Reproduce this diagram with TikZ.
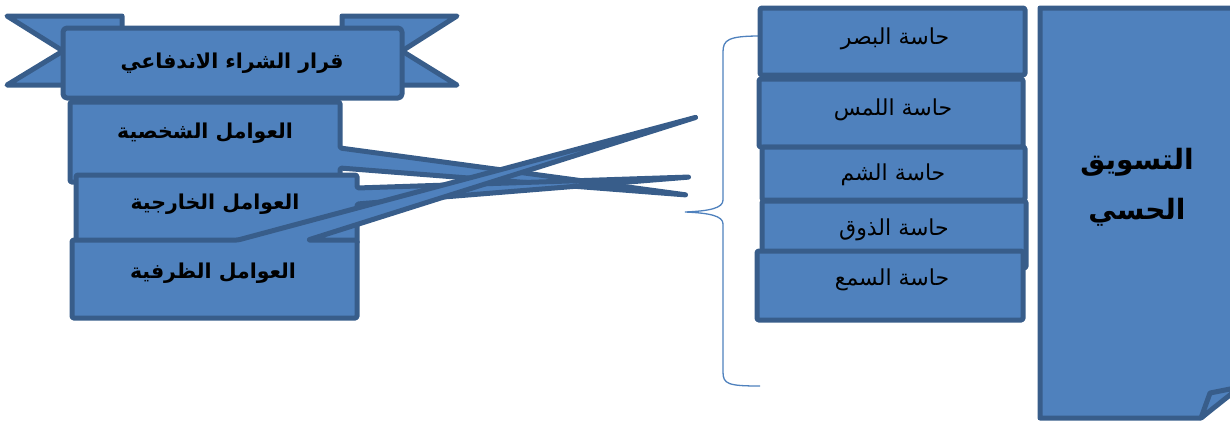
\documentclass[tikz,border=0pt]{standalone}
\usepackage{fontspec}
\newfontfamily\arabicfont[Script=Arabic]{DejaVu Sans}
\TeXXeTstate=1
\newcommand{\artext}[1]{\arabicfont\beginR #1\endR}
\definecolor{bfill}{HTML}{4F81BD}
\definecolor{bline}{HTML}{385D8A}
\begin{document}
\begin{tikzpicture}[x=1pt,y=-1pt]
\tikzset{
  shp/.style={fill=bfill, draw=bline, line width=5pt, line join=round},
  boldtxt/.style={font=\fontsize{20.5}{24}\selectfont\bfseries, text=black},
  senstxt/.style={font=\fontsize{22}{26}\selectfont, text=black},
  bigtxt/.style={font=\fontsize{28}{50}\selectfont\bfseries, text=black, align=center},
}
\useasboundingbox (0,0) rectangle (1230,421);
% ribbon
\draw[shp] (7,16) -- (122,16) -- (122,85) -- (7,85) -- (63,51) -- cycle;
\draw[shp] (457,16) -- (342,16) -- (342,85) -- (457,85) -- (402,51) -- cycle;
\draw[shp, rounded corners=4pt] (63,28) rectangle (402,98);
\node[boldtxt] (title) at (232,63) {\artext{قرار الشراء الاندفاعي}};
% callout boxes
\draw[shp, rounded corners=1.5pt] (70,102) -- (340,102) -- (340,148) -- (687,195) -- (340,168) -- (340,182) -- (70,182) -- cycle;
\draw[shp, rounded corners=1.5pt] (76,175) -- (357,175) -- (357,188) -- (690,177) -- (357,204) -- (357,244) -- (76,244) -- cycle;
\draw[shp, rounded corners=1.5pt] (72,240) -- (238,240) -- (697,117) -- (308,240) -- (357,240) -- (357,318) -- (72,318) -- cycle;
\node[boldtxt] (f1) at (205,133) {\artext{العوامل الشخصية}};
\node[boldtxt] (f2) at (215,204) {\artext{العوامل الخارجية}};
\node[boldtxt] (f3) at (213,273) {\artext{العوامل الظرفية}};
% brace
\draw[bfill, line width=1.3pt] (760,36) .. controls (728,36) and (723,40) .. (723,52) -- (723,200) .. controls (723,208) and (710,211) .. (685,212) .. controls (710,213) and (723,216) .. (723,224) -- (723,372) .. controls (723,384) and (728,386) .. (760,386);
% senses
\draw[shp, rounded corners=1.5pt] (760,8) rectangle (1025,75);
\draw[shp, rounded corners=1.5pt] (759,79) rectangle (1023,147);
\draw[shp, rounded corners=1.5pt] (762,147) rectangle (1025,200);
\draw[shp, rounded corners=1.5pt] (762,201) rectangle (1026,268);
\draw[shp, rounded corners=1.5pt] (757,251) rectangle (1023,320);
\node[senstxt] (s1) at (895,39) {\artext{حاسة البصر}};
\node[senstxt] (s2) at (893,110) {\artext{حاسة اللمس}};
\node[senstxt] (s3) at (893,175) {\artext{حاسة الشم}};
\node[senstxt] (s4) at (894,230) {\artext{حاسة الذوق}};
\node[senstxt] (s5) at (892,280) {\artext{حاسة السمع}};
% document shape
\draw[shp] (1040,8) -- (1240,8) -- (1240,384) -- (1201,418) -- (1040,418) -- cycle;
\draw[shp] (1201,418) -- (1210,393) -- (1240,387) -- cycle;
\node[bigtxt] (main) at (1137,187) {\artext{التسويق}\\\artext{الحسي}};
\end{tikzpicture}
\end{document}
